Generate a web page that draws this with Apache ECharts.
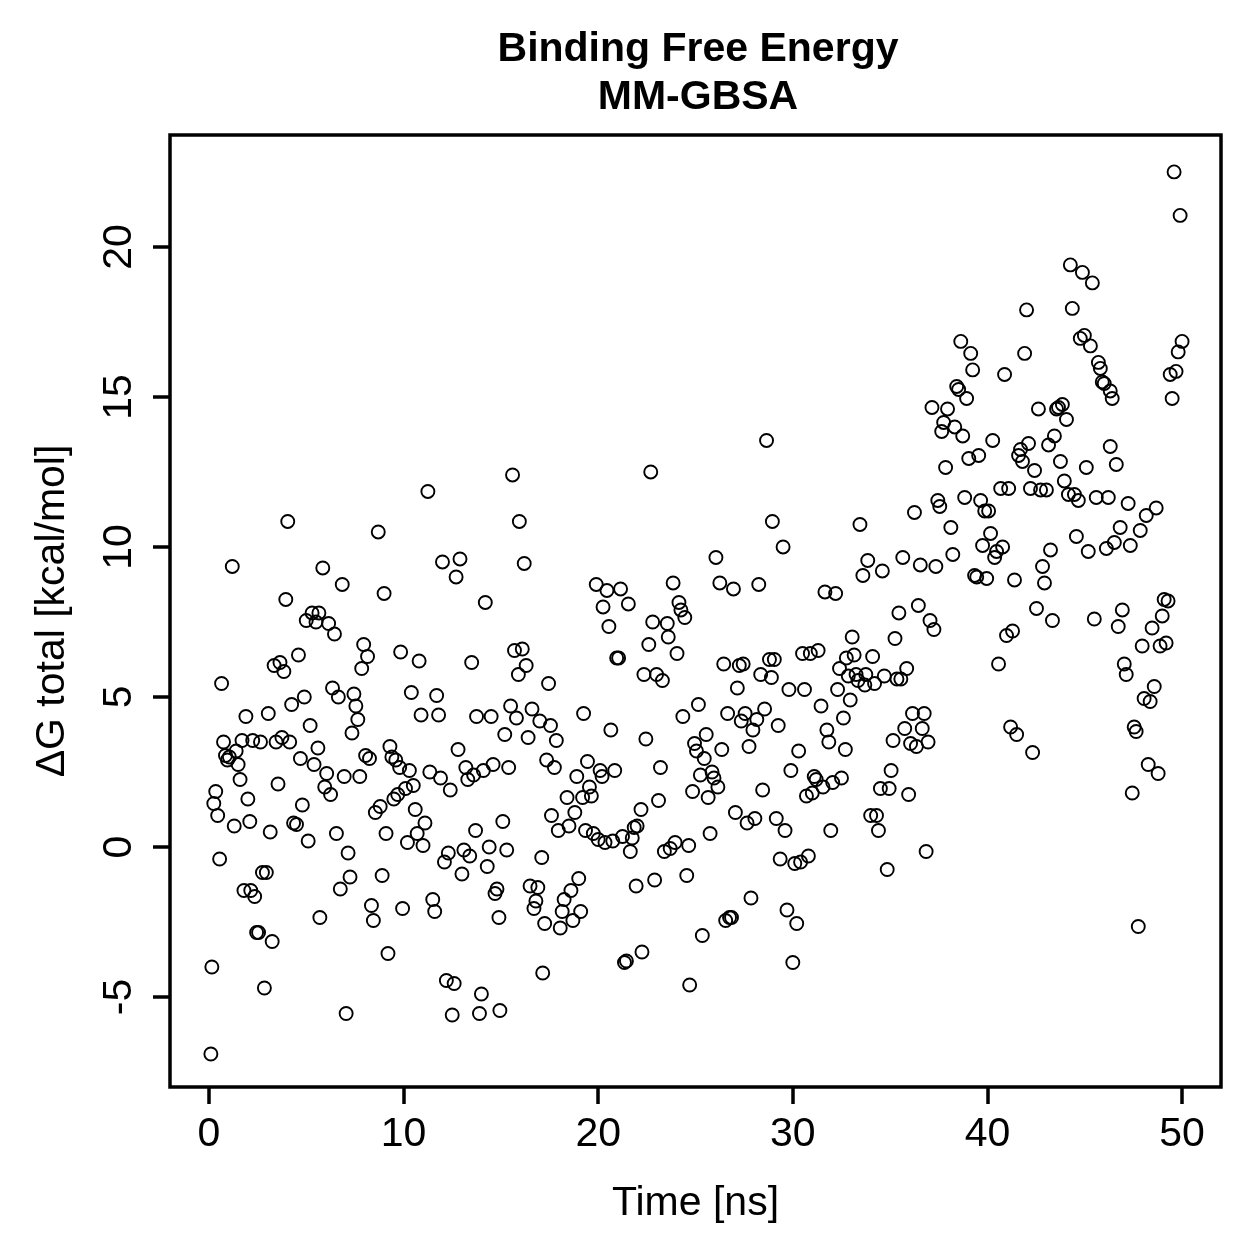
<!DOCTYPE html>
<html>
<head>
<meta charset="utf-8">
<script src="https://cdn.jsdelivr.net/npm/echarts@6.0.0/dist/echarts.min.js"></script>
<style>
  html, body { margin: 0; padding: 0; background: #fff; }
  #main { width: 1259px; height: 1259px; }
</style>
</head>
<body>
<div id="main"></div>
<script>
// tick positions (R default pretty axis)
var xTicks = [0, 10, 20, 30, 40, 50];
var yTicks = [-5, 0, 5, 10, 15, 20];

// time [ns]
var timeNs = [
  0.1,0.15,0.25,0.35,0.45,0.55,0.65,0.75,0.85,0.95,1.05,1.2,1.3,1.4,1.5,1.6,1.7,1.8,1.9,2.0,
  2.1,2.15,2.25,2.35,2.45,2.55,2.65,2.75,2.85,2.95,3.05,3.15,3.25,3.35,3.45,3.55,3.65,3.75,3.85,3.95,
  4.05,4.15,4.25,4.35,4.5,4.6,4.7,4.8,4.9,5.0,5.1,5.2,5.3,5.4,5.5,5.6,5.65,5.7,5.85,5.95,
  6.05,6.15,6.25,6.35,6.45,6.55,6.65,6.75,6.85,6.95,7.05,7.15,7.25,7.35,7.45,7.55,7.65,7.75,7.85,7.95,
  8.05,8.15,8.25,8.35,8.45,8.55,8.7,8.8,8.9,9.0,9.1,9.2,9.3,9.4,9.5,9.6,9.7,9.8,9.85,9.95,
  10.1,10.2,10.3,10.4,10.5,10.6,10.7,10.8,10.9,11.0,11.1,11.25,11.35,11.5,11.6,11.7,11.8,11.9,12.0,12.1,
  12.2,12.3,12.4,12.5,12.6,12.7,12.8,12.9,13.0,13.1,13.2,13.3,13.4,13.5,13.6,13.7,13.75,13.9,14.0,14.1,
  14.2,14.3,14.4,14.5,14.6,14.7,14.8,14.9,14.95,15.1,15.2,15.3,15.4,15.5,15.6,15.7,15.8,15.9,15.95,16.1,
  16.2,16.3,16.4,16.5,16.6,16.7,16.8,16.9,17.0,17.1,17.15,17.25,17.35,17.45,17.55,17.6,17.75,17.85,17.95,18.05,
  18.15,18.25,18.4,18.5,18.6,18.7,18.8,18.9,19.0,19.1,19.2,19.25,19.35,19.45,19.55,19.65,19.75,19.9,20.0,20.1,
  20.2,20.25,20.35,20.45,20.55,20.65,20.75,20.85,20.95,21.05,21.15,21.25,21.35,21.45,21.55,21.65,21.75,21.85,21.95,22.0,
  22.2,22.25,22.35,22.45,22.6,22.7,22.8,22.9,23.0,23.1,23.2,23.3,23.4,23.55,23.6,23.7,23.85,23.95,24.05,24.15,
  24.25,24.35,24.45,24.55,24.65,24.7,24.85,24.95,25.05,25.15,25.25,25.35,25.45,25.55,25.65,25.75,25.85,25.95,26.05,26.15,
  26.25,26.35,26.45,26.55,26.65,26.75,26.85,26.95,27.05,27.15,27.25,27.35,27.45,27.55,27.65,27.75,27.85,27.95,28.05,28.15,
  28.25,28.35,28.45,28.55,28.65,28.8,28.9,28.95,29.05,29.15,29.25,29.35,29.5,29.6,29.7,29.8,29.9,30.0,30.1,30.2,
  30.3,30.4,30.5,30.6,30.7,30.8,30.9,31.0,31.1,31.2,31.3,31.45,31.55,31.65,31.75,31.85,31.95,32.05,32.2,32.3,
  32.4,32.5,32.6,32.7,32.75,32.85,32.95,33.05,33.15,33.25,33.35,33.45,33.6,33.7,33.75,33.85,34.0,34.1,34.2,34.3,
  34.4,34.5,34.6,34.7,34.85,34.95,35.05,35.15,35.25,35.35,35.45,35.55,35.65,35.75,35.85,35.95,36.05,36.15,36.25,36.35,
  36.45,36.55,36.65,36.75,36.85,36.95,37.05,37.15,37.25,37.35,37.45,37.55,37.65,37.75,37.85,37.95,38.12,38.22,38.32,38.42,
  38.52,38.63,38.73,38.83,38.93,39.04,39.14,39.24,39.34,39.45,39.55,39.65,39.75,39.86,39.96,40.06,40.16,40.27,40.37,40.47,
  40.57,40.68,40.78,40.88,40.98,41.09,41.19,41.29,41.39,41.5,41.6,41.7,41.8,41.91,42.01,42.11,42.21,42.32,42.42,42.52,
  42.62,42.73,42.83,42.93,43.03,43.14,43.24,43.34,43.44,43.55,43.65,43.75,43.85,43.95,44.06,44.16,44.26,44.36,44.47,44.57,
  44.67,44.77,44.88,44.98,45.08,45.18,45.29,45.39,45.49,45.59,45.7,45.8,45.9,46.0,46.11,46.21,46.31,46.41,46.31,46.52,
  46.62,46.72,46.82,46.93,47.03,47.13,47.23,47.34,47.44,47.54,47.64,47.75,47.85,47.95,48.05,48.16,48.26,48.36,48.46,48.57,
  48.67,48.77,48.87,48.98,49.08,49.18,49.28,49.39,49.49,49.59,49.69,49.8,49.9,50.0
];

// dG total [kcal/mol]
var dGtotal = [
  -6.9,-4.0,1.45,1.85,1.05,-0.4,5.45,3.5,3.05,2.9,3.0,9.35,0.7,3.2,2.75,2.25,3.55,-1.45,4.35,1.6,
  0.85,-1.45,3.55,-1.65,-2.85,-2.85,3.5,-0.85,-4.7,-0.85,4.45,0.5,-3.15,6.05,3.5,2.1,6.15,3.65,5.85,8.25,
  10.85,3.5,4.75,0.8,0.75,6.4,2.95,1.4,5.0,7.55,0.2,4.05,7.8,2.75,7.5,3.3,7.8,-2.35,9.3,2.0,
  2.45,7.45,1.75,5.3,7.1,0.45,5.0,-1.4,8.75,2.35,-5.55,-0.2,-1.0,3.8,5.1,4.7,4.25,2.35,5.95,6.75,
  3.05,6.35,2.95,-1.95,-2.45,1.15,10.5,1.35,-0.95,8.45,0.45,-3.55,3.35,3.0,1.6,2.9,1.75,2.65,6.5,-2.05,
  1.95,0.15,2.55,5.15,2.05,1.25,0.45,6.2,4.4,0.05,0.8,11.85,2.5,-1.75,-2.15,5.05,4.4,2.3,9.5,-0.5,
  -4.45,-0.2,1.9,-5.6,-4.55,9.0,3.25,9.6,-0.9,-0.1,2.65,2.25,-0.3,6.15,2.4,0.55,4.35,-5.55,-4.9,2.55,
  8.15,-0.65,0.0,4.35,2.75,-1.55,-1.4,-2.35,-5.45,0.85,3.75,-0.1,2.65,4.7,12.4,6.55,4.3,5.75,10.85,6.6,
  9.45,6.05,3.65,-1.3,4.6,-2.05,-1.8,-1.35,4.2,-0.35,-4.2,-2.55,2.9,5.45,4.05,1.05,2.65,3.55,0.55,-2.7,
  -2.15,-1.75,1.65,0.7,-1.45,-2.45,1.15,2.35,-1.05,-2.15,1.65,4.45,0.55,2.85,2.0,1.7,0.45,8.75,0.25,2.55,
  2.35,8.0,0.15,8.55,7.35,3.9,0.2,2.55,6.3,6.3,8.6,0.35,-3.85,-3.8,8.1,-0.15,0.3,0.65,-1.3,0.7,
  1.25,-3.5,5.75,3.6,6.75,12.5,7.5,-1.1,5.75,1.55,2.65,5.55,-0.15,7.45,7.0,-0.05,8.8,0.15,6.45,8.15,
  7.9,4.35,7.65,-0.95,0.05,-4.6,1.85,3.45,3.2,4.75,2.4,-2.95,2.95,3.75,1.65,0.45,2.5,2.3,9.65,2.0,
  8.8,3.25,6.1,-2.45,4.45,-2.35,-2.35,8.6,1.15,5.3,6.05,4.2,6.1,4.45,0.8,3.35,-1.7,3.9,0.95,4.25,
  8.75,5.75,1.9,4.6,13.55,6.25,5.65,10.85,6.25,0.95,4.05,-0.4,10.0,0.55,-2.1,5.25,2.55,-3.85,-0.55,-2.55,
  3.2,-0.5,6.45,5.25,1.7,-0.3,6.45,1.8,2.35,2.25,6.55,4.7,2.0,8.5,3.9,3.5,0.55,2.15,8.45,5.25,
  5.95,2.3,4.3,3.25,6.3,5.7,4.9,7.0,6.4,5.75,5.55,10.75,9.05,5.4,5.75,9.55,1.05,6.35,5.45,1.05,
  0.55,1.95,9.2,5.7,-0.75,1.95,2.55,3.55,6.95,5.6,7.8,5.6,9.65,3.95,5.95,1.75,3.45,4.45,11.15,3.35,
  8.05,9.4,3.95,4.45,-0.15,3.5,7.55,14.65,7.25,9.35,11.55,11.35,13.85,14.15,12.65,14.6,10.65,9.75,14.0,15.35,
  15.25,16.85,13.7,11.65,14.95,12.95,16.45,15.9,9.05,9.0,13.05,11.55,10.05,11.2,8.95,11.2,10.45,13.55,9.65,9.85,
  6.1,11.95,10.0,15.75,7.05,11.95,4.0,7.2,8.9,3.75,13.05,13.25,12.85,16.45,17.9,13.45,11.95,3.15,12.55,7.95,
  14.6,11.9,9.35,8.8,11.9,13.4,9.9,7.55,13.7,14.6,14.65,12.85,14.75,12.2,14.25,11.75,19.4,17.95,11.75,10.35,
  11.55,16.95,19.15,17.05,12.65,9.85,16.7,18.8,7.6,11.65,16.15,15.95,15.5,15.45,9.95,11.65,15.2,14.95,13.35,10.15,
  12.75,7.35,10.65,7.9,6.1,5.75,11.45,10.05,1.8,4.0,3.85,-2.65,10.55,6.7,4.95,11.05,2.75,4.85,7.3,5.35,
  11.3,2.45,6.7,7.7,8.25,6.8,8.2,15.75,14.95,22.5,15.85,16.5,21.05,16.85
];

var points = [];
for (var i = 0; i < timeNs.length && i < dGtotal.length; i++) {
    points.push([timeNs[i], dGtotal[i]]);
}

var myChart = echarts.init(document.getElementById('main'));
var font = '"Liberation Sans", Arial, Helvetica, sans-serif';

option = {
    animation: false,
    backgroundColor: '#fff',
    title: {
        text: 'Binding Free Energy\nMM-GBSA',
        left: 693,
        top: 21,
        textAlign: 'center',
        textStyle: {
            fontFamily: font,
            fontSize: 41,
            fontWeight: 'bold',
            color: '#000',
            lineHeight: 48
        }
    },
    grid: {
        left: 170,
        right: 38,
        top: 135,
        bottom: 172,
        show: true,
        borderColor: '#000',
        borderWidth: 3.5,
        backgroundColor: 'transparent'
    },
    xAxis: {
        type: 'value',
        min: -2,
        max: 52,
        name: 'Time [ns]',
        nameLocation: 'middle',
        nameGap: 96,
        nameTextStyle: { fontFamily: font, fontSize: 41, color: '#000' },
        axisLine: { show: false, onZero: false },
        splitLine: { show: false },
        axisTick: {
            show: true,
            customValues: xTicks,
            length: 17,
            lineStyle: { color: '#000', width: 3.5 }
        },
        axisLabel: {
            customValues: xTicks,
            fontFamily: font,
            fontSize: 41,
            color: '#000',
            margin: 27
        }
    },
    yAxis: {
        type: 'value',
        min: -8.0,
        max: 23.73,
        name: 'ΔG total [kcal/mol]',
        nameLocation: 'middle',
        nameRotate: 90,
        nameGap: 97,
        nameTextStyle: { fontFamily: font, fontSize: 41, color: '#000' },
        axisLine: { show: false, onZero: false },
        splitLine: { show: false },
        axisTick: {
            show: true,
            customValues: yTicks,
            length: 17,
            lineStyle: { color: '#000', width: 3.5 }
        },
        axisLabel: {
            customValues: yTicks,
            rotate: 90,
            fontFamily: font,
            fontSize: 41,
            color: '#000',
            margin: 30
        }
    },
    series: [
        {
            name: 'dG',
            type: 'scatter',
            data: points,
            symbol: 'circle',
            symbolSize: 13,
            silent: true,
            itemStyle: {
                color: 'rgba(0,0,0,0)',
                borderColor: '#000',
                borderWidth: 1.9,
                opacity: 1
            }
        }
    ]
};

if (option && typeof option === "object") {
    myChart.setOption(option, true);
}
</script>
</body>
</html>
